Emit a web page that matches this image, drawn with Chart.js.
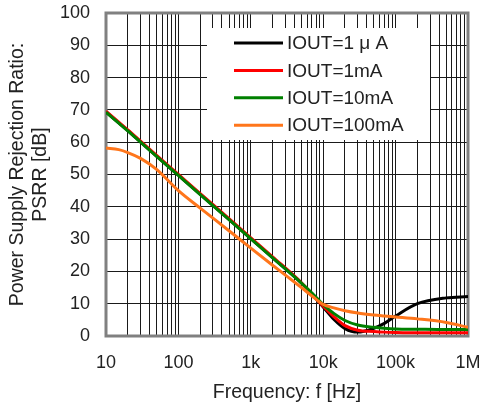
<!DOCTYPE html>
<html lang="en">
<head>
  <meta charset="UTF-8">
  <title>PSRR vs Frequency</title>
  <script src="https://cdn.jsdelivr.net/npm/chart.js"></script>
  <style>
    * { margin: 0; padding: 0; box-sizing: border-box; }
    body { background: #fff; }
    .chart-box { position: relative; width: 481px; height: 407px; }
  </style>
</head>
<body>
  <div class="chart-box"><canvas id="psrrChart"></canvas></div>

  <script>
    // Frequency points [Hz]
    const freqs = [10, 15, 20, 30, 50, 100, 200, 500, 1000, 2000, 5000, 7000, 10000, 14000, 20000, 30000, 50000, 70000, 100000, 200000, 500000, 1000000];

    // PSRR [dB] for each load current
    const psrr1uA   = [69.4, 66.0, 63.6, 60.1, 55.7, 49.8, 43.9, 36.1, 30.2, 24.3, 16.4, 12.9, 9.0, 5.2, 2.3, 1.2, 2.4, 3.9, 6.2, 10.0, 11.8, 12.2];
    const psrr1mA   = [69.6, 66.2, 63.8, 60.3, 55.9, 50.0, 44.1, 36.3, 30.4, 24.5, 16.5, 13.0, 9.2, 6.0, 3.2, 1.8, 1.4, 1.2, 1.1, 1.0, 1.0, 1.0];
    const psrr10mA  = [69.3, 65.9, 63.5, 60.0, 55.6, 49.7, 43.8, 36.0, 30.1, 24.2, 16.4, 13.3, 9.7, 7.0, 4.8, 3.4, 2.7, 2.4, 2.2, 2.1, 2.0, 2.0];
    const psrr100mA = [58.2, 57.7, 56.8, 55.0, 51.6, 45.0, 39.6, 32.6, 27.2, 21.9, 15.0, 12.4, 9.8, 8.7, 7.8, 7.1, 6.5, 6.2, 5.9, 5.3, 4.2, 2.7];

    const seriesLabels = ['IOUT=1 \u03bc A', 'IOUT=1mA', 'IOUT=10mA', 'IOUT=100mA'];
    const seriesColors = ['#000000', '#ff0000', '#008000', '#ff761b'];

    // Axis ticks
    const xDecades = [10, 100, 1000, 10000, 100000, 1000000];
    const xDecadeLabels = ['10', '100', '1k', '10k', '100k', '1M'];

    const seriesValues = [psrr1uA, psrr1mA, psrr10mA, psrr100mA];
    // draw order: orange on top, then green, red, black
    const drawOrder = [3, 2, 1, 0];

    const datasets = seriesValues.map((vals, i) => ({
      label: seriesLabels[i],
      data: freqs.map((f, k) => ({ x: f, y: vals[k] })),
      borderColor: seriesColors[i],
      backgroundColor: seriesColors[i],
      borderWidth: 3,
      pointRadius: 0,
      cubicInterpolationMode: 'monotone',
      order: drawOrder[i]
    }));

    // no automatic label padding, the layout padding sets the plot box
    function noPad(scale) {
      scale.paddingLeft = 0;
      scale.paddingRight = 0;
      scale.paddingTop = 0;
      scale.paddingBottom = 0;
    }

    // grey frame round the plot area
    const framePlugin = {
      id: 'frame',
      beforeDatasetsDraw(chart) {
        const { ctx, chartArea: a } = chart;
        ctx.save();
        ctx.strokeStyle = '#808080';
        ctx.lineWidth = 3;
        ctx.strokeRect(a.left, a.top, a.right - a.left, a.bottom - a.top);
        ctx.restore();
      }
    };

    // legend box sitting inside the plot, over the grid
    const insideLegend = {
      id: 'insideLegend',
      afterDatasetsDraw(chart) {
        const { ctx, chartArea: a } = chart;
        const x0 = a.left + 101;
        const y0 = a.top + 15;
        ctx.save();
        ctx.fillStyle = '#fff';
        ctx.fillRect(x0, y0, 223, 112);
        ctx.font = '19px "Liberation Sans", Arial, sans-serif';
        ctx.textBaseline = 'middle';
        chart.data.datasets.forEach((ds, i) => {
          const y = y0 + 15 + i * 27.4;
          ctx.strokeStyle = ds.borderColor;
          ctx.lineWidth = 3;
          ctx.beginPath();
          ctx.moveTo(x0 + 27, y);
          ctx.lineTo(x0 + 76, y);
          ctx.stroke();
          ctx.fillStyle = '#222';
          ctx.fillText(ds.label, x0 + 80, y + 1);
        });
        ctx.restore();
      }
    };

    Chart.defaults.font.family = '"Liberation Sans", Arial, sans-serif';
    Chart.defaults.color = '#222';

    new Chart(document.getElementById('psrrChart'), {
      type: 'line',
      data: { datasets },
      plugins: [framePlugin, insideLegend],
      options: {
        responsive: true,
        maintainAspectRatio: false,
        animation: false,
        layout: { padding: { top: 13, right: 13, left: 0, bottom: 0 } },
        plugins: {
          legend: { display: false },
          tooltip: { enabled: false }
        },
        scales: {
          x: {
            type: 'logarithmic',
            min: 10,
            max: 1000000,
            afterFit(scale) { scale.height = 71; noPad(scale); },
            afterBuildTicks(scale) {
              const ticks = [];
              for (let d = 10; d < 1000000; d *= 10) {
                for (let m = 1; m < 10; m++) ticks.push({ value: d * m });
              }
              ticks.push({ value: 1000000 });
              scale.ticks = ticks;
            },
            ticks: {
              autoSkip: false,
              maxRotation: 0,
              padding: 16,
              font: { size: 18 },
              callback(value) {
                const i = xDecades.indexOf(value);
                return i >= 0 ? xDecadeLabels[i] : '';
              }
            },
            grid: { color: '#1a1a1a', lineWidth: 1, drawTicks: false },
            border: { display: false },
            title: {
              display: true,
              text: 'Frequency: f [Hz]',
              font: { size: 19.5 },
              padding: { top: 0, bottom: 3 }
            }
          },
          y: {
            min: 0,
            max: 100,
            afterFit(scale) { scale.width = 106; noPad(scale); },
            ticks: {
              stepSize: 10,
              padding: 16,
              font: { size: 18 }
            },
            grid: { color: '#1a1a1a', lineWidth: 1, drawTicks: false },
            border: { display: false },
            title: {
              display: true,
              text: ['Power Supply Rejection Ratio:', 'PSRR [dB]'],
              font: { size: 19.5 },
              padding: { top: 6, bottom: 0 }
            }
          }
        }
      }
    });
  </script>
</body>
</html>
